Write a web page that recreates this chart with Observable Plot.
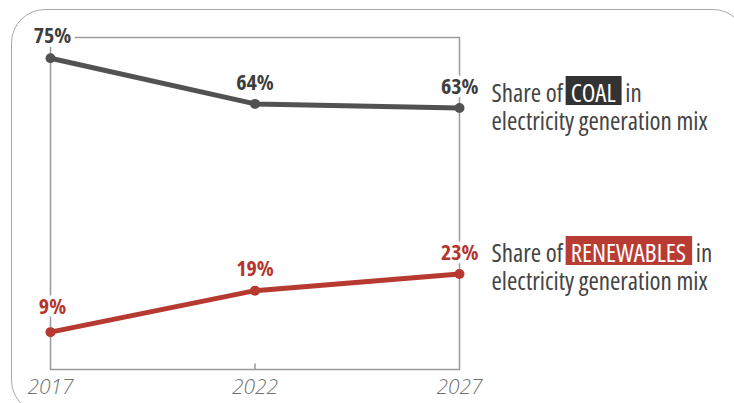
<!DOCTYPE html>
<html><head><meta charset="utf-8">
<script src="https://cdn.jsdelivr.net/npm/d3@7"></script>
<script src="https://cdn.jsdelivr.net/npm/@observablehq/plot@0.6"></script>
<style>
body{margin:0;background:#fff;overflow:hidden;}
#wrap{position:relative;width:734px;height:403px;overflow:hidden;background:#fff;}
#border{position:absolute;left:11px;top:9px;width:736px;height:405px;border:1.5px solid #a8a8a8;border-radius:34px;box-sizing:border-box;}
#chart{position:absolute;left:0;top:0;}
svg text{font-stretch:75%;}
svg text.yr{font-stretch:100%;}
</style></head><body>
<div id="wrap"><div id="border"></div><div id="chart"></div></div>
<script>
const years = [2017, 2022, 2027];
const coalShare = [75, 64, 63];
const renewShare = [9, 19, 23];
const seriesNames = ["COAL", "RENEWABLES"];
const seriesColors = ["#525252", "#b73a31"];
const labelColors = ["#3e3e3e", "#b5352e"];
const annotations = ["Share of COAL in\nelectricity generation mix", "Share of RENEWABLES in\nelectricity generation mix"];

const FONT = "'Open Sans',sans-serif";

const coalRows = years.map((y, i) => ({year: y, value: coalShare[i], series: seriesNames[0]}));
const renewRows = years.map((y, i) => ({year: y, value: renewShare[i], series: seriesNames[1]}));
const last = years[years.length - 1];

function seriesMarks(rows, k, dyFirst, dyMid, dyLast, annDy) {
  const lbl = {x: "year", y: "value", text: d => d.value + "%", fill: labelColors[k], fontSize: 22, fontWeight: "bold",
    stroke: "white", strokeWidth: 8, paintOrder: "stroke"};
  return [
    Plot.line(rows, {x: "year", y: "value", stroke: seriesColors[k], strokeWidth: 5}),
    Plot.dot(rows, {x: "year", y: "value", r: 5, fill: seriesColors[k]}),
    Plot.text(rows.slice(0, 1), {...lbl, dx: 2, dy: dyFirst}),
    Plot.text(rows.slice(1, 2), {...lbl, dy: dyMid}),
    Plot.text(rows.slice(2), {...lbl, textAnchor: "end", dx: 19, dy: dyLast}),
    Plot.text([rows[rows.length - 1]], {x: "year", y: "value", text: () => annotations[k], textAnchor: "start",
      lineAnchor: "middle", lineHeight: 1.12, dx: 32, dy: annDy, fontSize: 25, fill: "#444"})
  ];
}

const tickSymbol = {draw(ctx) { ctx.moveTo(0, 0); ctx.lineTo(0, -6); }};

const svg = Plot.plot({
  width: 734, height: 403,
  marginLeft: 50, marginRight: 275, marginTop: 37, marginBottom: 34,
  style: {fontFamily: FONT, background: "transparent", overflow: "visible"},
  x: {domain: [years[0], last], axis: null},
  y: {domain: [0, 80], axis: null},
  marks: [
    Plot.frame({stroke: "#9a9a9a", strokeWidth: 1.5}),
    Plot.dot([years[1]], {x: d => d, frameAnchor: "bottom", symbol: tickSymbol, stroke: "#9a9a9a", strokeWidth: 1.5}),
    ...seriesMarks(coalRows, 0, -22, -21, -21, -1),
    ...seriesMarks(renewRows, 1, -25, -22, -21, -7),
    Plot.text(years, {x: d => d, frameAnchor: "bottom", dy: 18, lineAnchor: "middle", text: d => String(d),
      fontSize: 21, fontStyle: "italic", fontWeight: 300, fill: "#707070"})
  ]
});
document.getElementById("chart").append(svg);

// year labels use normal width
d3.select(svg).selectAll("text").filter(function() { return years.map(String).includes(this.textContent); })
  .attr("class", "yr");

// highlight boxes behind the series keywords
const NS = "http://www.w3.org/2000/svg";
d3.select(svg).selectAll("text").each(function() {
  const textEl = this;
  textEl.querySelectorAll("tspan").forEach(ts => {
    const s = ts.textContent;
    seriesNames.forEach((name, k) => {
      const idx = s.indexOf(" " + name + " ");
      if (idx < 0) return;
      ts.textContent = "";
      ts.appendChild(document.createTextNode(s.slice(0, idx + 1)));
      const inner = document.createElementNS(NS, "tspan");
      inner.textContent = name;
      inner.setAttribute("fill", "white");
      inner.setAttribute("dx", 3);
      ts.appendChild(inner);
      const tail = document.createElementNS(NS, "tspan");
      tail.textContent = s.slice(idx + 1 + name.length);
      tail.setAttribute("dx", 5);
      ts.appendChild(tail);
      const bb = inner.getBBox();
      const rect = document.createElementNS(NS, "rect");
      rect.setAttribute("x", bb.x - 5);
      rect.setAttribute("y", bb.y + 1);
      rect.setAttribute("width", bb.width + 11);
      rect.setAttribute("height", 29);
      rect.setAttribute("fill", k === 0 ? "#333333" : "#b83c33");
      const tr = textEl.getAttribute("transform");
      if (tr) rect.setAttribute("transform", tr);
      textEl.parentNode.insertBefore(rect, textEl);
    });
  });
});
</script>
</body></html>
